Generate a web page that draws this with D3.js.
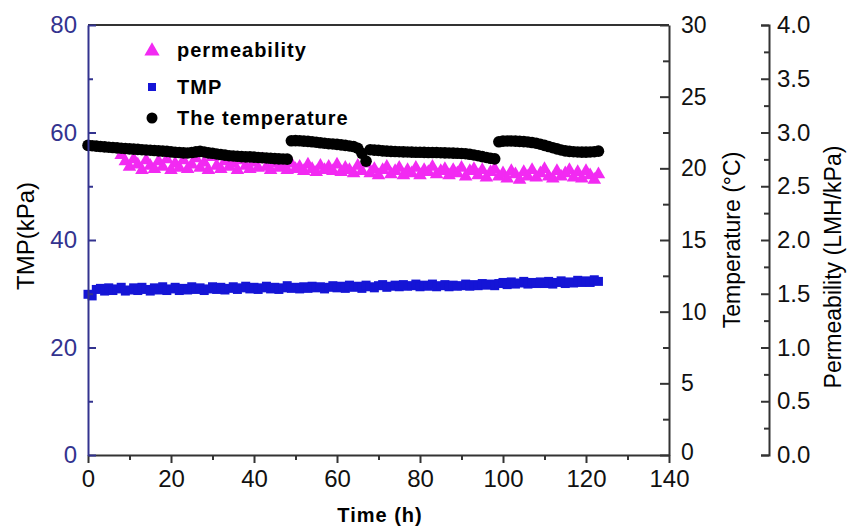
<!DOCTYPE html>
<html>
<head>
<meta charset="utf-8">
<script src="https://cdn.jsdelivr.net/npm/d3@7"></script>
<style>
  body { margin: 0; background: #fff; }
  text { font-family: "Liberation Sans", Arial, sans-serif; }
</style>
</head>
<body>
<div id="wrapper"></div>
<script>
// hourly readings
const tmpHours = d3.range(0, 124)
const tmpValues = [ // kPa
  29.9,29.6,30.8,31.0,30.5,31.1,30.6,30.9,31.2,30.5,
  30.7,31.1,30.6,31.2,30.8,30.5,31.1,30.7,31.3,30.6,
  30.9,31.2,30.6,31.0,30.7,31.3,30.8,31.1,30.6,30.9,
  31.3,30.8,31.2,30.7,31.0,31.3,30.8,31.1,31.4,30.9,
  31.2,30.8,31.1,31.4,30.9,31.2,30.8,31.1,31.5,31.0,
  31.2,30.9,31.3,31.0,31.4,31.1,31.3,30.9,31.2,31.5,
  31.1,31.4,31.0,31.6,31.2,31.4,31.0,31.6,31.3,31.1,
  31.5,31.7,31.2,31.4,31.6,31.3,31.7,31.4,31.5,31.8,
  31.3,31.6,31.4,31.8,31.3,31.5,31.7,31.3,31.6,31.4,
  31.5,31.8,31.4,31.7,31.5,31.9,31.6,31.8,31.5,31.9,
  32.1,31.7,32.2,31.8,32.0,32.3,31.8,32.1,31.9,32.2,
  31.9,32.3,31.8,32.1,32.4,31.9,32.2,32.0,32.5,32.1,
  32.4,32.1,32.6,32.3
]

const tempHours = d3.range(0, 124)
const tempValues = [ // °C
  21.60,21.58,21.55,21.52,21.50,21.47,21.45,21.43,21.40,21.38,
  21.36,21.34,21.32,21.30,21.28,21.26,21.24,21.22,21.20,21.18,
  21.15,21.12,21.10,21.08,21.07,21.10,21.15,21.18,21.14,21.08,
  21.05,21.00,20.96,20.92,20.88,20.86,20.84,20.82,20.80,20.80,
  20.78,20.76,20.74,20.72,20.70,20.68,20.66,20.65,
  20.64,
  21.92,21.93,21.92,21.90,21.88,21.85,21.82,21.78,21.75,21.72,21.70,
  21.67,21.64,21.60,21.56,21.52,21.40,21.05,
  20.50,
  21.30,21.27,21.25,21.22,21.20,21.18,21.17,21.16,21.15,21.14,21.13,21.12,
  21.12,21.11,21.10,21.10,21.10,21.09,21.08,21.07,21.06,21.05,
  21.04,21.02,20.98,20.93,20.88,20.82,20.76,20.70,20.66,
  21.85,21.90,21.91,21.91,21.90,21.88,21.86,21.84,21.80,21.75,21.68,
  21.60,21.52,21.44,21.36,21.28,21.22,21.18,21.16,21.14,21.13,21.13,21.14,21.16,21.20
]

const permHours = d3.range(8, 124)
const permValues = [ // LMH/kPa
  2.80,2.74,2.69,2.76,2.71,2.66,2.75,2.70,2.67,2.74,
  2.69,2.76,2.66,2.72,2.68,2.75,2.67,2.71,2.77,2.68,
  2.73,2.66,2.78,2.70,2.67,2.74,2.69,2.72,2.66,2.75,
  2.70,2.67,2.73,2.68,2.76,2.69,2.66,2.72,2.68,2.70,
  2.66,2.72,2.67,2.69,2.65,2.71,2.67,2.64,2.70,2.66,
  2.69,2.65,2.71,2.64,2.68,2.66,2.63,2.70,2.65,2.72,
  2.63,2.67,2.61,2.66,2.69,2.62,2.65,2.68,2.61,2.66,
  2.63,2.68,2.61,2.66,2.64,2.69,2.62,2.65,2.67,2.61,
  2.66,2.63,2.68,2.60,2.65,2.67,2.61,2.66,2.59,2.64,
  2.67,2.60,2.63,2.58,2.65,2.62,2.57,2.64,2.60,2.66,
  2.59,2.63,2.67,2.60,2.58,2.65,2.60,2.63,2.66,2.59,
  2.64,2.58,2.65,2.61,2.57,2.62
]

const xTicks = [0, 20, 40, 60, 80, 100, 120, 140]
const tmpTicks = [0, 20, 40, 60, 80]
const tempTicks = [0, 5, 10, 15, 20, 25, 30]
const permTicks = [0, 0.5, 1.0, 1.5, 2.0, 2.5, 3.0, 3.5, 4.0]
const legendLabels = ["permeability", "TMP", "The temperature"]

const pink = "#f22af2"
const blue = "#1515d6"
const navy = "#33338f"
const grey = "#333"

const dims = {
  width: 856,
  height: 529,
  margin: { top: 25, right: 187, bottom: 74, left: 88 }
}
dims.boundWidth = dims.width - dims.margin.left - dims.margin.right
dims.boundHeight = dims.height - dims.margin.top - dims.margin.bottom

const wrapper = d3.select("#wrapper")
  .append("svg")
    .attr("width", dims.width)
    .attr("height", dims.height)

const bound = wrapper.append("g")
  .attr("transform", `translate(${dims.margin.left},${dims.margin.top})`)

// scales
const xScale = d3.scaleLinear().domain([0, 140]).range([0, dims.boundWidth])
const tmpScale = d3.scaleLinear().domain([0, 80]).range([dims.boundHeight, 0])
const tempScale = d3.scaleLinear().domain([0, 30]).range([dims.boundHeight, 0])
const permScale = d3.scaleLinear().domain([0, 4]).range([dims.boundHeight, 0])

// top frame line
bound.append("line")
  .attr("x1", 0).attr("x2", dims.boundWidth)
  .attr("y1", 0).attr("y2", 0)
  .attr("stroke", grey).attr("stroke-width", 2)

// data marks
const triangle = d3.symbol().type(d3.symbolTriangle).size(80)
bound.append("g").selectAll("path")
  .data(permValues)
  .join("path")
    .attr("d", triangle)
    .attr("transform", (d, i) => `translate(${xScale(permHours[i])},${permScale(d) + 1})`)
    .attr("fill", pink)

bound.append("g").selectAll("rect")
  .data(tmpValues)
  .join("rect")
    .attr("x", (d, i) => xScale(tmpHours[i]) - 4.5)
    .attr("y", d => tmpScale(d) - 4.5)
    .attr("width", 9).attr("height", 9)
    .attr("fill", blue)

bound.append("g").selectAll("circle")
  .data(tempValues)
  .join("circle")
    .attr("cx", (d, i) => xScale(tempHours[i]))
    .attr("cy", d => tempScale(d))
    .attr("r", 5.8)
    .attr("fill", "#000")

// axes
function styleAxis(g, color, fontSize) {
  g.select(".domain").attr("stroke", color).attr("stroke-width", 2)
  g.selectAll(".tick line").attr("stroke", color).attr("stroke-width", 2)
  g.selectAll(".tick text").attr("fill", color).style("font-size", fontSize + "px")
}

// x axis
const xMinor = bound.append("g")
  .attr("transform", `translate(0,${dims.boundHeight})`)
  .call(d3.axisBottom(xScale).tickValues(d3.range(10, 140, 20)).tickSize(5).tickFormat(""))
xMinor.select(".domain").remove()
xMinor.selectAll(".tick line").attr("stroke", grey).attr("stroke-width", 2)
const xAxis = bound.append("g")
  .attr("transform", `translate(0,${dims.boundHeight})`)
  .call(d3.axisBottom(xScale).tickValues(xTicks).tickSize(8).tickSizeOuter(0).tickPadding(7))
styleAxis(xAxis, grey, 24)
xAxis.selectAll(".tick text").attr("fill", "#111")

// left TMP axis
const tmpMinor = bound.append("g")
  .call(d3.axisLeft(tmpScale).tickValues([10, 30, 50, 70]).tickSize(-5).tickFormat(""))
tmpMinor.select(".domain").remove()
tmpMinor.selectAll(".tick line").attr("stroke", navy).attr("stroke-width", 2)
const tmpAxis = bound.append("g")
  .call(d3.axisLeft(tmpScale).tickValues(tmpTicks).tickSize(-8).tickSizeOuter(0).tickPadding(11))
styleAxis(tmpAxis, navy, 24)

// right temperature axis
const tempMinor = bound.append("g")
  .attr("transform", `translate(${dims.boundWidth},0)`)
  .call(d3.axisRight(tempScale).tickValues(d3.range(2.5, 30, 5)).tickSize(-6).tickFormat(""))
tempMinor.select(".domain").remove()
tempMinor.selectAll(".tick line").attr("stroke", grey).attr("stroke-width", 2)
const tempAxis = bound.append("g")
  .attr("transform", `translate(${dims.boundWidth},0)`)
  .call(d3.axisRight(tempScale).tickValues(tempTicks).tickSize(-9).tickSizeOuter(0).tickPadding(12))
styleAxis(tempAxis, grey, 23)
tempAxis.selectAll(".tick text").attr("fill", "#111")
tempAxis.selectAll(".tick text").filter(d => d === 0).attr("dy", "0.2em")

// outer permeability axis
const permX = dims.boundWidth + 100
const permMinor = bound.append("g")
  .attr("transform", `translate(${permX},0)`)
  .call(d3.axisRight(permScale).tickValues(d3.range(0.25, 4, 0.5)).tickSize(-5).tickFormat(""))
permMinor.select(".domain").remove()
permMinor.selectAll(".tick line").attr("stroke", grey).attr("stroke-width", 2)
const permAxis = bound.append("g")
  .attr("transform", `translate(${permX},0)`)
  .call(d3.axisRight(permScale).tickValues(permTicks).tickSize(-8).tickSizeOuter(-8).tickPadding(8)
    .tickFormat(d3.format(".1f")))
styleAxis(permAxis, grey, 24)
permAxis.selectAll(".tick text").attr("fill", "#111")

// axis titles
wrapper.append("text")
  .attr("transform", "translate(34,236) rotate(-90)")
  .attr("text-anchor", "middle")
  .style("font-size", "24px")
  .text("TMP(kPa)")

wrapper.append("text")
  .attr("transform", "translate(740,240) rotate(-90)")
  .attr("text-anchor", "middle")
  .style("font-size", "23px")
  .text("Temperature (°C)")

wrapper.append("text")
  .attr("transform", "translate(841,267) rotate(-90)")
  .attr("text-anchor", "middle")
  .style("font-size", "23px")
  .text("Permeability (LMH/kPa)")

wrapper.append("text")
  .attr("x", 380).attr("y", 522)
  .attr("text-anchor", "middle")
  .style("font-size", "20px")
  .style("font-weight", "bold")
  .style("letter-spacing", "1px")
  .text("Time (h)")

// legend
const legend = wrapper.append("g")
const legendY = [50, 87, 118]
legend.append("path")
  .attr("d", d3.symbol().type(d3.symbolTriangle).size(100))
  .attr("transform", `translate(152,${legendY[0] + 1})`)
  .attr("fill", pink)
legend.append("rect")
  .attr("x", 148).attr("y", legendY[1] - 4)
  .attr("width", 8).attr("height", 8)
  .attr("fill", blue)
legend.append("circle")
  .attr("cx", 152).attr("cy", legendY[2])
  .attr("r", 5.5).attr("fill", "#000")
legend.selectAll("text.leg")
  .data(legendLabels)
  .join("text")
    .attr("class", "leg")
    .attr("x", 177)
    .attr("y", (d, i) => legendY[i] + 7)
    .style("font-size", "20px")
    .style("font-weight", "bold")
    .style("letter-spacing", "1px")
    .text(d => d)
</script>
</body>
</html>
